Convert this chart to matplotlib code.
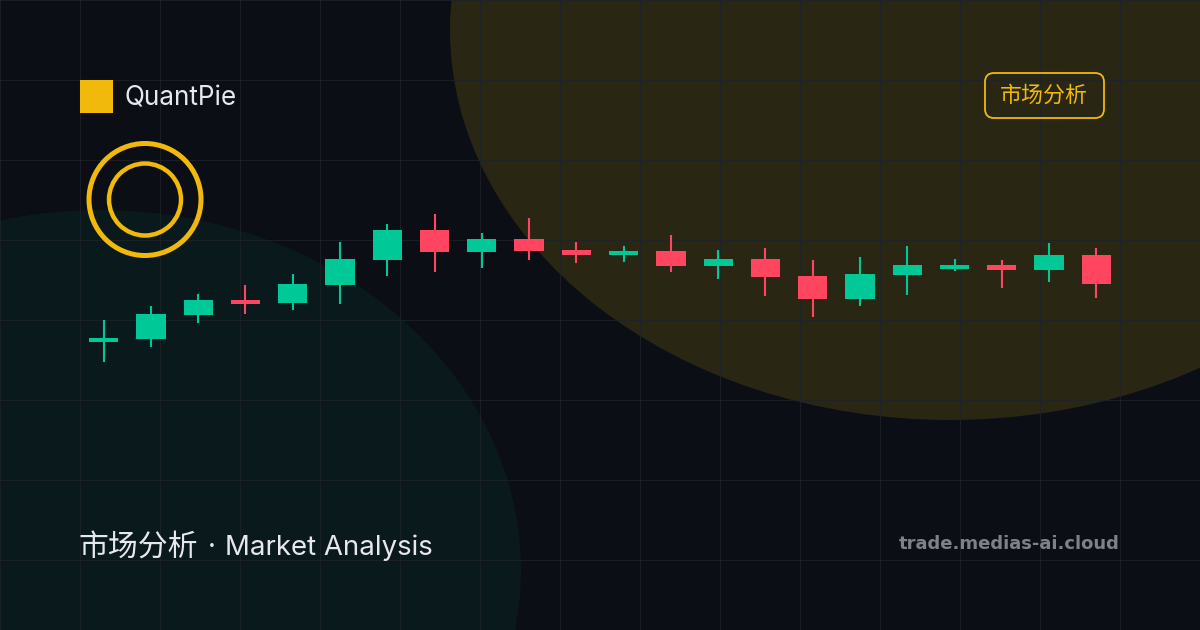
import matplotlib
matplotlib.use("Agg")
import matplotlib.pyplot as plt
from matplotlib.patches import Circle, Ellipse, FancyBboxPatch, Rectangle

BG = "#0b0e14"
GOLD = "#f0b90b"
GREEN = "#00c896"
RED = "#ff4560"

# candles (height above the bottom edge)
opens = [288, 291, 315, 330, 327, 345, 370, 400, 378, 391, 380, 375, 379, 364, 371, 354, 331, 355, 361, 365, 360, 375]
closes = [292, 316, 330, 326, 346, 371, 400, 378, 391, 379, 375, 379, 364, 371, 353, 331, 356, 365, 365, 360, 375, 346]
highs = [310, 324, 336, 345, 356, 388, 406, 416, 397, 412, 388, 384, 395, 380, 382, 370, 373, 384, 371, 370, 387, 382]
lows = [268, 283, 307, 316, 320, 326, 354, 358, 362, 370, 367, 368, 358, 351, 334, 313, 324, 335, 359, 342, 348, 332]

fig = plt.figure(figsize=(12, 6.3), dpi=100, facecolor=BG)

# background layer in picture pixels
bg = fig.add_axes([0, 0, 1, 1])
bg.set_xlim(0, 1200)
bg.set_ylim(630, 0)
bg.set_facecolor(BG)
bg.set_xticks(range(0, 1200, 80))
bg.set_yticks(range(0, 630, 80))
bg.grid(True, color="#1e2329", linewidth=0.72, alpha=0.8)
bg.set_axisbelow(False)
bg.tick_params(length=0, labelleft=False, labelbottom=False)
for s in bg.spines.values():
    s.set_visible(False)

bg.add_patch(Ellipse((950, 30), 1000, 780, fc="#2a2614", ec="none", zorder=1))
bg.add_patch(Ellipse((100, 570), 842, 720, fc="#0a191c", ec="none", zorder=1))

bg.add_patch(Rectangle((80, 80), 33, 33, fc=GOLD, ec="none", zorder=3))
bg.add_patch(Circle((145, 199.5), 56, fc="none", ec=GOLD, lw=3.6, zorder=3))
bg.add_patch(Circle((145, 199.5), 36, fc="none", ec=GOLD, lw=3.2, zorder=3))
bg.add_patch(FancyBboxPatch((985, 73), 119, 45, boxstyle="round,pad=0,rounding_size=9",
                            fc="none", ec=GOLD, lw=1.3, zorder=3))

cjk = ["Inter", "Noto Sans CJK SC", "DejaVu Sans"]
bg.text(125, 105.5, "QuantPie", color="#e6e8ee", fontsize=18.8, family=cjk, va="baseline", zorder=4)
bg.text(1044, 95, "市场分析", color=GOLD, fontsize=15.8, family=cjk, ha="center", va="center", zorder=4)
bg.text(78.5, 556.5, "市场分析", color="#e6e8ee", fontsize=21.5, family=cjk, va="baseline", zorder=4)
bg.text(212, 555, "·", color="#e6e8ee", fontsize=19.9, family="Inter", ha="center", va="baseline", zorder=4)
bg.text(225, 555, "Market Analysis", color="#e6e8ee", fontsize=19.9, family="Inter", va="baseline", zorder=4)
bg.text(1120, 549, "trade.medias-ai.cloud", color="#7d818b", fontsize=13, family="DejaVu Sans",
        weight="bold", ha="right", va="baseline", zorder=4)

# candle layer
ax = fig.add_axes([80 / 1200, 0, 1040 / 1200, 1])
ax.set_xlim(-0.5, len(opens) - 0.5)
ax.set_ylim(0, 630)
ax.axis("off")
ax.patch.set_alpha(0)

for i in range(len(opens)):
    col = GREEN if closes[i] >= opens[i] else RED
    ax.vlines(i, lows[i], highs[i], color=col, linewidth=1.5, zorder=2)
    ax.bar(i, abs(closes[i] - opens[i]), bottom=min(opens[i], closes[i]), width=0.62, color=col, zorder=3)

fig.savefig("out.png", dpi=100, facecolor=BG)
